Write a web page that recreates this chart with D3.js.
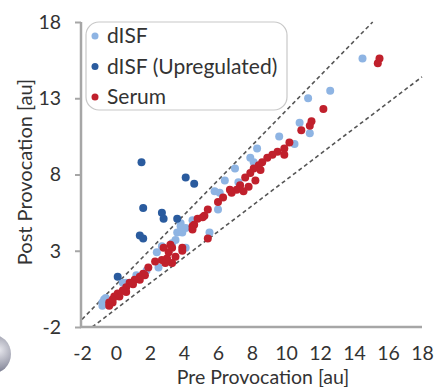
<!DOCTYPE html>
<html>
<head>
<meta charset="utf-8">
<script src="https://cdn.jsdelivr.net/npm/d3@7"></script>
<style>
  html, body { margin: 0; padding: 0; background: #fff; }
  svg { display: block; font-family: Lato, "Open Sans", sans-serif; }
</style>
</head>
<body>
<svg id="chart" width="438" height="387"></svg>
<script>
// ticks
const xTicks = [-2, 0, 2, 4, 6, 8, 10, 12, 14, 16, 18];
const yTicks = [-2, 3, 8, 13, 18];

// series: [pre, post]
const serum = [
  [15.5, 15.6], [15.4, 15.3], [12.2, 12.3], [11.5, 11.5], [11.4, 11.2], [10.9, 10.9],
  [10.2, 10.1], [9.9, 9.7], [9.5, 9.5], [9.2, 9.3], [9.9, 9.3], [8.9, 9.1], [8.6, 8.8],
  [8.4, 8.6], [8.1, 8.4], [8.5, 8.3], [7.9, 8.1], [7.6, 7.8], [8.2, 7.6], [7.3, 7.3],
  [7.8, 7.2], [7.1, 7.0], [6.8, 6.8], [7.5, 6.9], [6.7, 7.0], [6.3, 6.5], [6.0, 6.2],
  [5.4, 5.7], [5.2, 5.3], [4.8, 5.1], [4.6, 4.7], [4.5, 4.4], [5.1, 5.2], [4.5, 4.6],
  [5.4, 3.8], [3.2, 3.4], [2.8, 3.2], [3.9, 3.2], [3.9, 3.0], [3.5, 2.6], [3.3, 3.2],
  [3.1, 2.9], [2.9, 2.2], [3.3, 2.2], [3.0, 2.5], [2.7, 2.4], [2.3, 2.3], [1.9, 1.9],
  [1.7, 1.4], [1.6, 1.5], [1.4, 1.3], [1.4, 1.1], [1.1, 1.1], [1.0, 0.8], [0.8, 0.9],
  [0.6, 0.6], [0.6, 0.3], [0.4, 0.4], [0.2, 0.0], [0.1, 0.2], [-0.1, 0.0], [-0.2, -0.4],
  [-0.2, -0.2], [-0.4, -0.4], [-0.4, -0.6]
];
const disf = [
  [14.5, 15.6], [12.6, 13.5], [11.3, 13.0], [10.8, 11.4], [11.4, 10.7], [9.6, 10.5],
  [10.5, 10.0], [8.3, 9.7], [7.9, 9.1], [8.1, 8.8], [7.0, 8.4], [7.2, 7.5], [6.4, 7.6],
  [6.1, 6.8], [5.8, 6.9], [6.0, 5.7], [4.5, 5.0], [3.8, 4.8], [3.8, 4.6], [4.1, 4.5],
  [3.6, 4.2], [3.9, 4.2], [5.5, 4.2], [3.5, 3.7], [3.3, 3.5], [2.7, 3.3], [4.1, 3.2],
  [2.4, 2.9], [2.5, 1.9], [1.8, 1.7], [1.2, 1.4], [0.6, 0.9], [0.4, 0.9], [-0.6, -0.1],
  [-0.7, -0.2], [-0.8, -0.4], [-0.8, -0.6]
];
const disfUp = [
  [1.5, 8.8], [4.1, 7.8], [4.6, 7.4], [1.6, 5.8], [2.7, 5.5], [2.8, 5.1],
  [3.6, 5.1], [1.4, 4.0], [1.6, 3.8], [0.1, 1.3]
];
// dashed guide lines (endpoints in data units)
const upperGuide = [[-2, -1.5], [15.1, 18]];
const lowerGuide = [[-1.4, -2], [18, 14.4]];

const legendItems = [
  {label: 'dISF', color: '#8eb4e3'},
  {label: 'dISF (Upregulated)', color: '#2a5b9e'},
  {label: 'Serum', color: '#c0202c'}
];

const svg = d3.select('#chart');
const axisColor = '#a6a6a6';
const textColor = '#333';

const x = d3.scaleLinear().domain([-2, 18]).range([82, 422]);
const y = d3.scaleLinear().domain([-2, 18]).range([327, 22]);

// stray round button at the left edge
const grad = svg.append('defs').append('radialGradient')
  .attr('id', 'knob').attr('cx', '70%').attr('cy', '40%').attr('r', '70%');
grad.append('stop').attr('offset', '0%').attr('stop-color', '#e8e8ee');
grad.append('stop').attr('offset', '60%').attr('stop-color', '#9a9cab');
grad.append('stop').attr('offset', '100%').attr('stop-color', '#5d6078');
svg.append('circle').attr('cx', -9).attr('cy', 354).attr('r', 20)
  .attr('fill', 'url(#knob)');

// guide lines
const line = d3.line().x(d => x(d[0])).y(d => y(d[1]));
[upperGuide, lowerGuide].forEach(g => {
  svg.append('path').attr('d', line(g))
    .attr('fill', 'none').attr('stroke', '#555')
    .attr('stroke-width', 1.6).attr('stroke-dasharray', '4,3');
});

// y axis
const yAxis = svg.append('g').attr('transform', 'translate(81,0)')
  .call(d3.axisLeft(y).tickValues(yTicks).tickSize(6).tickSizeOuter(0).tickPadding(14)
    .tickFormat(d => String(d)));
// x axis
const xAxis = svg.append('g').attr('transform', 'translate(0,327)')
  .call(d3.axisBottom(x).tickValues(xTicks).tickSize(0).tickPadding(19)
    .tickFormat(d => String(d)));

[yAxis, xAxis].forEach(a => {
  a.select('.domain').attr('stroke', axisColor).attr('stroke-width', 2.5);
  a.selectAll('.tick line').attr('stroke', axisColor).attr('stroke-width', 2);
  a.selectAll('.tick text').attr('fill', textColor)
    .style('font-size', '19.5px').style('font-family', 'Lato, sans-serif');
});
xAxis.select('.domain').attr('d', 'M80,0H422');
yAxis.select('.domain').attr('d', 'M0,22V328');

// points
const series = [
  {data: disf, color: legendItems[0].color},
  {data: disfUp, color: legendItems[1].color},
  {data: serum, color: legendItems[2].color}
];
series.forEach(s => {
  svg.append('g').selectAll('circle')
    .data(s.data)
    .enter()
    .append('circle')
    .attr('cx', d => x(d[0]))
    .attr('cy', d => y(d[1]))
    .attr('r', 4)
    .attr('fill', s.color);
});

// legend
const legend = svg.append('g').attr('transform', 'translate(86,22)');
legend.append('rect').attr('width', 201).attr('height', 88)
  .attr('rx', 13).attr('ry', 13)
  .attr('fill', '#fff').attr('stroke', '#c8c8c8').attr('stroke-width', 1.2);
legendItems.forEach((item, i) => {
  const row = legend.append('g').attr('transform', 'translate(0,' + (14 + i * 30.5) + ')');
  row.append('circle').attr('cx', 9).attr('cy', 0).attr('r', 3.5).attr('fill', item.color);
  row.append('text').attr('x', 21).attr('y', 0).attr('dy', '0.35em')
    .attr('fill', textColor).style('font-size', '21px')
    .text(item.label);
});

// axis titles
svg.append('text')
  .attr('transform', 'translate(32,172) rotate(-90)')
  .attr('text-anchor', 'middle')
  .attr('fill', textColor).style('font-size', '20px')
  .text('Post Provocation [au]');
svg.append('text')
  .attr('x', 263).attr('y', 384)
  .attr('text-anchor', 'middle')
  .attr('fill', textColor).style('font-size', '19.5px')
  .text('Pre Provocation [au]');
</script>
</body>
</html>
